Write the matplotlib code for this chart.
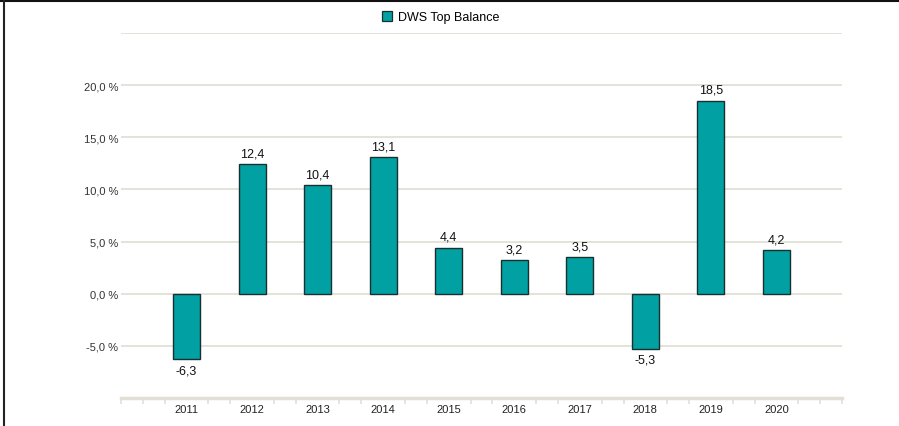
import numpy as np
import matplotlib.pyplot as plt
from matplotlib.lines import Line2D
from matplotlib.patches import Patch

plt.rcParams['font.family'] = ['Liberation Sans', 'DejaVu Sans']

years = ['2011', '2012', '2013', '2014', '2015', '2016', '2017', '2018', '2019', '2020']
returns = [-6.3, 12.4, 10.4, 13.1, 4.4, 3.2, 3.5, -5.3, 18.5, 4.2]
yticks = [-5, 0, 5, 10, 15, 20]

bar_col = '#00A0A3'
grid_col = '#E2E0D6'

fig = plt.figure(figsize=(8.99, 4.27), dpi=100)
ax = fig.add_axes([121/899, 1-399/427, (842-121)/899, (399-34)/427])

x = np.arange(1, len(years)+1)
ax.bar(x, returns, width=0.41, color=bar_col, edgecolor='#1a3030', linewidth=1.0, zorder=3)

for xi, v in zip(x, returns):
    lab = f'{v:.1f}'.replace('.', ',')
    if v >= 0:
        ax.annotate(lab, (xi, v), xytext=(0, 3.5), textcoords='offset points',
                    ha='center', va='bottom', fontsize=9, color='#111111')
    else:
        ax.annotate(lab, (xi, v), xytext=(0, -3.5), textcoords='offset points',
                    ha='center', va='top', fontsize=9, color='#111111')

ax.set_xlim(0, 11)
ax.set_ylim(-10, 25)

for g in yticks + [25]:
    ax.axhline(g, color=grid_col, lw=1.3, zorder=1)

ax.set_yticks(yticks)
ax.set_yticklabels([f'{t:.1f} %'.replace('.', ',') for t in yticks], fontsize=8, color='#333333')
ax.tick_params(axis='y', length=0, pad=2)

ax.set_xticks(x)
ax.set_xticklabels(years, fontsize=8, color='#222222')
ax.tick_params(axis='x', which='major', length=0, pad=4)
minor = [k/3 for k in range(0, 34) if k % 3 != 0 or k in (0, 33)]
ax.set_xticks(minor, minor=True)
ax.tick_params(axis='x', which='minor', length=4, width=1.2, color=grid_col, direction='out')

for s in ['top', 'right', 'left']:
    ax.spines[s].set_visible(False)
ax.spines['bottom'].set_color(grid_col)
ax.spines['bottom'].set_linewidth(2.5)

handle = Patch(facecolor=bar_col, edgecolor='#1a3030', linewidth=0.9)
fig.legend([handle], ['DWS Top Balance'], loc='center', bbox_to_anchor=(441/899, 1-18/427),
           frameon=False, fontsize=9, handlelength=0.8, handleheight=0.8, handletextpad=0.5)

fig.add_artist(Line2D([0, 1], [1-1.5/427, 1-1.5/427], color='#111111', lw=1.5))
fig.add_artist(Line2D([4/899, 4/899], [0, 1-1.5/427], color='#222222', lw=1.5))

fig.savefig('out.png', dpi=100)
